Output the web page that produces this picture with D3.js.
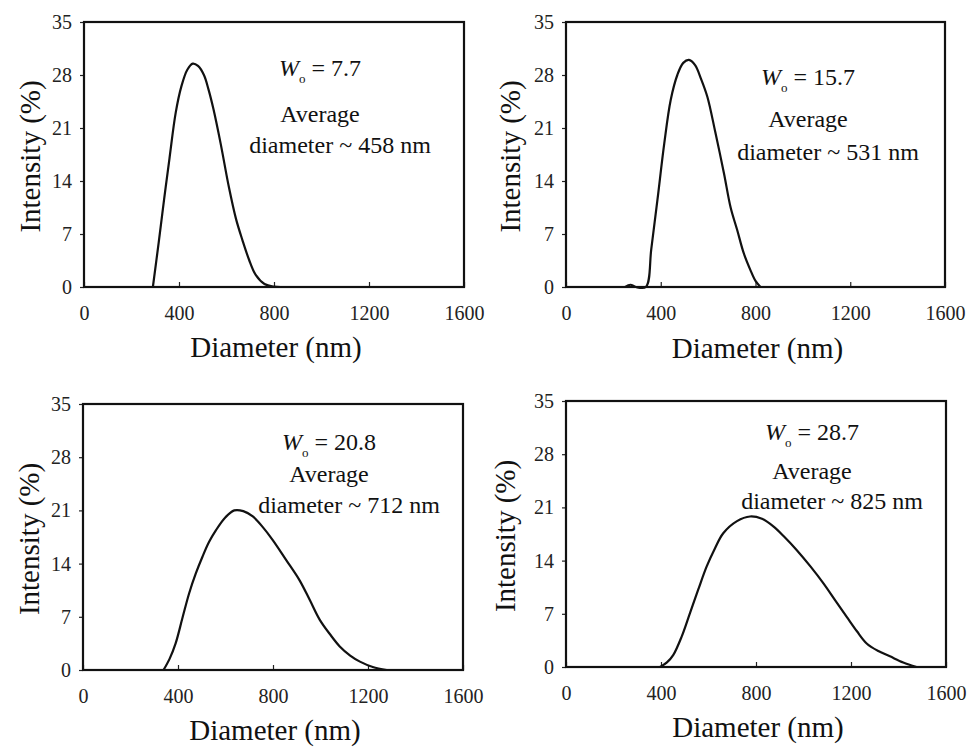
<!DOCTYPE html>
<html><head><meta charset="utf-8">
<script src="https://cdn.jsdelivr.net/npm/d3@7"></script>
</head>
<body style="margin:0">
<svg id="chart" width="971" height="747"></svg>
<script>
// ---------- data ----------
const xTicks = [0, 400, 800, 1200, 1600];
const yTicks = [0, 7, 14, 21, 28, 35];
const xTitle = "Diameter (nm)";
const yTitle = "Intensity (%)";

const woValues = ["7.7", "15.7", "20.8", "28.7"];
const avgDiameters = ["458", "531", "712", "825"];

const diam1 = [290, 315, 337, 360, 386, 410, 435, 458, 480, 505, 525, 545, 575, 610, 640, 667, 695, 723, 760, 800, 830];
const int1  = [0, 6, 11.5, 17, 23, 26.5, 28.7, 29.5, 29.2, 28, 26, 23.5, 19, 13.2, 9, 6.2, 3.6, 1.6, 0.4, 0.05, 0];

const diam2 = [250, 272, 295, 337, 360, 386, 415, 442, 470, 495, 519, 545, 570, 597, 630, 667, 695, 723, 750, 779, 800, 821];
const int2  = [0, 0.3, 0, 0, 5, 11.5, 19, 24.7, 28, 29.6, 30, 29.3, 27.5, 25.1, 20.5, 15, 10.5, 7.5, 4.5, 2.2, 0.8, 0];

const diam3 = [339, 365, 390, 420, 447, 475, 503, 530, 560, 600, 637, 675, 715, 757, 799, 855, 912, 955, 997, 1040, 1081, 1125, 1166, 1220, 1279];
const int3  = [0, 1.5, 3.5, 7, 10.1, 12.7, 14.9, 16.8, 18.4, 20.1, 21, 20.9, 20.2, 18.8, 17.1, 14.5, 11.8, 9.2, 6.6, 4.7, 3.1, 1.9, 1.1, 0.4, 0];

const diam4 = [396, 425, 452, 487, 522, 557, 592, 627, 662, 720, 775, 825, 873, 920, 971, 1030, 1084, 1135, 1182, 1225, 1266, 1315, 1364, 1420, 1476];
const int4  = [0, 0.6, 1.6, 4, 7.1, 10.2, 13.2, 15.6, 17.6, 19.2, 19.8, 19.5, 18.5, 17.1, 15.4, 13.2, 11, 8.7, 6.6, 4.7, 3.1, 2.1, 1.4, 0.6, 0];

const seriesDiam = [diam1, diam2, diam3, diam4];
const seriesInt = [int1, int2, int3, int4];

// ---------- layout ----------
const panels = [
  { x: 84,  y: 22,  w: 380, h: 265, ax: 236, ab: [54, 100, 131], yt: 30,  xtY: 357 },
  { x: 566, y: 22,  w: 379, h: 265, ax: 242, ab: [63, 105, 138], yt: 510, xtY: 358 },
  { x: 83,  y: 404, w: 380, h: 266, ax: 246, ab: [46, 78, 109],  yt: 29,  xtY: 740 },
  { x: 566, y: 401, w: 380, h: 266, ax: 246, ab: [39, 78, 108],  yt: 505, xtY: 737 }
];

function serif(sel, size) {
  return sel.attr("font-family", "Liberation Serif").attr("font-size", size)
    .style("font-family", "'Liberation Serif'").style("font-size", size + "px");
}

const svg = d3.select("#chart");

panels.forEach((p, i) => {
  const g = svg.append("g").attr("transform", "translate(" + p.x + "," + p.y + ")");
  const x = d3.scaleLinear().domain([0, 1600]).range([0, p.w]);
  const y = d3.scaleLinear().domain([0, 35]).range([p.h, 0]);

  // axes
  const gx = g.append("g").attr("transform", "translate(0," + p.h + ")")
    .call(d3.axisBottom(x).tickValues(xTicks).tickSizeInner(-5).tickSizeOuter(0).tickPadding(19).tickFormat(d3.format("d")));
  const gy = g.append("g")
    .call(d3.axisLeft(y).tickValues(yTicks).tickSizeInner(4).tickSizeOuter(0).tickPadding(8).tickFormat(d3.format("d")));
  [gx, gy].forEach(a => {
    a.attr("font-family", "Liberation Serif");
    a.select(".domain").remove();
    a.selectAll("line").attr("stroke", "#222").attr("stroke-width", 1.2);
    serif(a.selectAll("text"), 20).attr("fill", "#222");
  });

  // box
  g.append("rect").attr("width", p.w).attr("height", p.h)
    .attr("fill", "none").attr("stroke", "#111").attr("stroke-width", 2.2);

  // curve
  const pts = seriesDiam[i].map((d, k) => [d, seriesInt[i][k]]);
  const line = d3.line().x(d => x(d[0])).y(d => Math.min(y(d[1]), p.h)).curve(d3.curveCatmullRom.alpha(0.5));
  g.append("path").datum(pts).attr("d", line).attr("fill", "none")
    .attr("stroke", "#111").attr("stroke-width", 2.2).attr("stroke-linejoin", "round");

  // annotation
  const t1 = serif(g.append("text"), 24).attr("x", p.ax).attr("y", p.ab[0]).attr("text-anchor", "middle").attr("fill", "#111");
  t1.append("tspan").attr("font-style", "italic").style("font-style", "italic").text("W");
  t1.append("tspan").attr("dy", 7).attr("font-size", 13).style("font-size", "13px").text("o");
  t1.append("tspan").attr("dy", -7).text(" = " + woValues[i]);
  serif(g.append("text"), 24).attr("x", p.ax).attr("y", p.ab[1]).attr("text-anchor", "middle").attr("fill", "#111").text("Average");
  serif(g.append("text"), 24).attr("x", p.ax + 20).attr("y", p.ab[2]).attr("text-anchor", "middle").attr("fill", "#111")
    .text("diameter ~ " + avgDiameters[i] + " nm");

  // axis titles
  serif(svg.append("text"), 29).attr("x", p.x + p.w / 2 + 2).attr("y", p.xtY).attr("text-anchor", "middle")
    .attr("fill", "#111").text(xTitle);
  serif(svg.append("text"), 29).attr("transform", "translate(" + (p.yt + 10) + "," + (p.y + p.h / 2 + 2) + ") rotate(-90)")
    .attr("text-anchor", "middle").attr("fill", "#111").text(yTitle);
});
</script>
</body></html>
